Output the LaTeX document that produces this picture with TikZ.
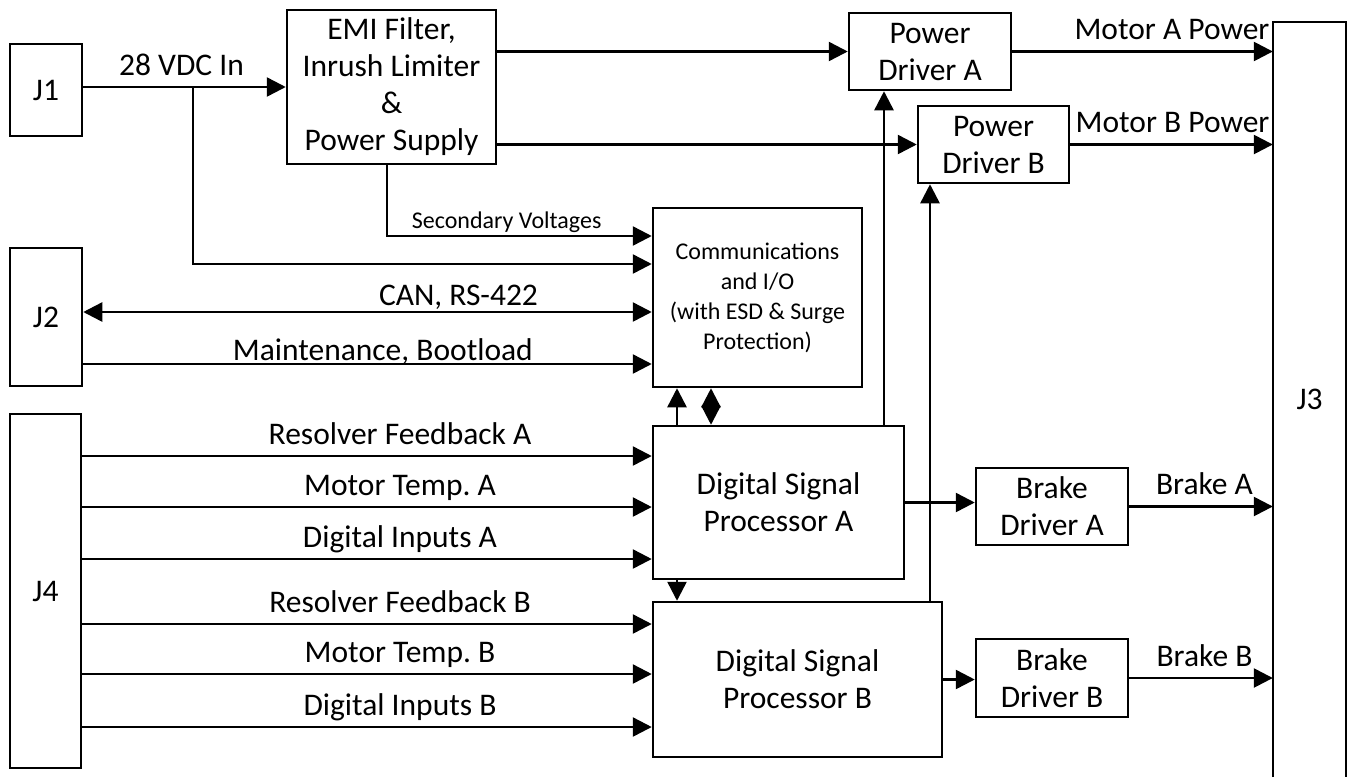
\documentclass[tikz,border=0pt]{standalone}
\usepackage{fontspec}
\setmainfont{Carlito}
\usetikzlibrary{arrows.meta}

\newcommand{\blocktext}{\fontsize{31.5}{37}\selectfont}
\newcommand{\notetext}{\fontsize{24}{30}\selectfont}

\tikzset{
  blk/.style={draw, line width=2.5pt, align=center, inner sep=0pt, font=\blocktext},
  sig/.style={line width=2.5pt, -{Triangle[length=19pt,width=19pt]}},
  bus/.style={line width=2.5pt, {Triangle[length=19pt,width=19pt]}-{Triangle[length=19pt,width=19pt]}},
  lbl/.style={anchor=base, yshift=12pt, inner sep=0pt, font=\blocktext}
}

\begin{document}
\frenchspacing
\begin{tikzpicture}[x=1pt, y=-1pt]
        \useasboundingbox (0,0) rectangle (1348,777);

        % Connectors and power blocks
        \node[blk, minimum width=72pt, minimum height=92pt] (j1) at (46,90) {J1};
        \node[blk, minimum width=209pt, minimum height=154pt] (emi) at (391.5,87) {EMI Filter,\\Inrush Limiter\\\&\\Power Supply};
        \node[blk, minimum width=162pt, minimum height=77pt] (pda) at (930,51.5) {Power\\Driver A};
        \node[blk, minimum width=151pt, minimum height=77pt] (pdb) at (993.5,144.5) {Power\\Driver B};
        \node[minimum width=73pt, minimum height=755pt, inner sep=0pt, font=\blocktext] (j3) at (1309.5,399.5) {J3};
        \draw[line width=2.5pt] (j3.south west) -- (j3.north west) -- (j3.north east) -- (j3.south east);

        % Communications and processors
        \node[blk, font=\notetext, minimum width=209pt, minimum height=179pt] (comms) at (757.5,297.5) {Communications\\and I/O\\(with ESD \& Surge\\Protection)};
        \node[blk, minimum width=72pt, minimum height=138pt] (j2) at (46,317) {J2};
        \node[blk, minimum width=71pt, minimum height=354pt] (j4) at (45.5,591) {J4};
        \node[blk, minimum width=251pt, minimum height=153pt] (dspa) at (778.5,502.5) {Digital Signal\\Processor A};
        \node[blk, minimum width=289pt, minimum height=155pt] (dspb) at (797.5,679.5) {Digital Signal\\Processor B};
        \node[blk, minimum width=152pt, minimum height=77pt] (bda) at (1052,506.5) {Brake\\Driver A};
        \node[blk, minimum width=152pt, minimum height=78pt] (bdb) at (1052,678) {Brake\\Driver B};

        % Power path
        \draw[sig] (emi.west -| j1.east) -- node[lbl, pos=0.485] (vdc) {28 VDC In} (emi.west);
        \coordinate (tap) at (193,87);
        \draw[sig] (tap) |- (comms.west |- 0,264);
        \draw[sig] (387,0 |- emi.south) |- node[lbl, font=\notetext, yshift=-4pt, pos=0.726] (secv) {Secondary Voltages} (comms.west |- 0,236);
        \draw[sig] (emi.east |- pda.west) -- (pda.west);
        \draw[sig] (emi.east |- pdb.west) -- (pdb.west);
        \draw[sig] (pda.east) -- node[lbl, pos=0.613] (mapow) {Motor A Power} (pda.east -| j3.west);
        \draw[sig] (pdb.east) -- node[lbl, pos=0.505] (mbpow) {Motor B Power} (pdb.east -| j3.west);

        % J2 links
        \draw[bus] (j2.east |- 0,312) -- node[lbl, yshift=-5pt, pos=0.66] (can) {CAN, RS-422} (comms.west |- 0,312);
        \draw[sig] (j2.east |- 0,364) -- node[lbl, yshift=-8pt, pos=0.527] (maint) {Maintenance, Bootload} (comms.west |- 0,364);

        % J4 inputs
        \foreach \yy/\txt in {456/Resolver Feedback A, 507/Motor Temp. A, 559/Digital Inputs A}
          \draw[sig] (j4.east |- 0,\yy) -- node[lbl, pos=0.558] (ina\yy) {\txt} (dspa.west |- 0,\yy);
        \foreach \yy/\txt in {624/Resolver Feedback B, 674/Motor Temp. B, 727/Digital Inputs B}
          \draw[sig] (j4.east |- 0,\yy) -- node[lbl, pos=0.558] (inb\yy) {\txt} (dspb.west |- 0,\yy);

        % Processor links
        \draw[sig] (dspa.north -| 677,0) -- (comms.south -| 677,0);
        \draw[bus] (dspa.north -| 711,0) -- (comms.south -| 711,0);
        \draw[sig] (dspa.south -| 677,0) -- (dspb.north -| 677,0);
        \draw[sig] (dspa.north -| 884,0) -- (pda.south -| 884,0);
        \draw[sig] (dspb.north -| 930,0) -- (pdb.south -| 930,0);
        \draw[sig] (dspa.east) -- (dspa.east -| bda.west);
        \draw[sig] (dspb.east) -- (dspb.east -| bdb.west);

        % Brake outputs
        \draw[sig] (bda.east) -- node[lbl, pos=0.524] (brka) {Brake A} (bda.east -| j3.west);
        \draw[sig] (bdb.east) -- node[lbl, pos=0.524] (brkb) {Brake B} (bdb.east -| j3.west);
\end{tikzpicture}
\end{document}
